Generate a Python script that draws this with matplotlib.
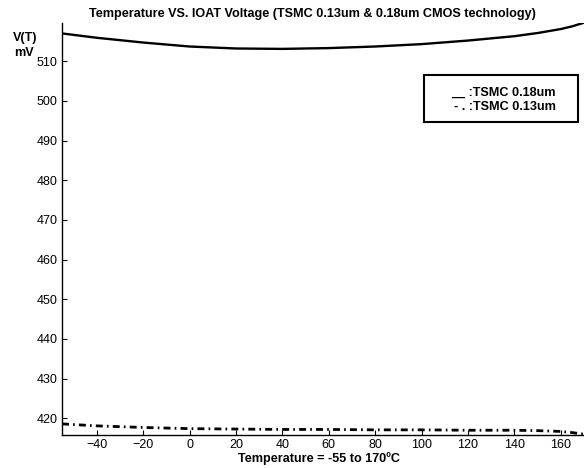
import matplotlib
matplotlib.use("Agg")
import matplotlib.pyplot as plt
from matplotlib.patches import Rectangle

plt.rcParams['font.family'] = ['Liberation Sans', 'DejaVu Sans']

# Data
temp_018 = [-55, -40, -20, 0, 20, 40, 60, 80, 100, 120, 140, 150, 160, 165, 170]
volt_018 = [517.0, 515.9, 514.7, 513.7, 513.2, 513.1, 513.3, 513.7, 514.3, 515.2, 516.3, 517.1, 518.1, 518.8, 519.7]

temp_013 = [-55, -40, -20, 0, 20, 40, 60, 80, 100, 120, 140, 150, 160, 165, 170]
volt_013 = [418.6, 418.1, 417.7, 417.4, 417.3, 417.2, 417.2, 417.1, 417.1, 417.0, 417.0, 416.9, 416.7, 416.4, 416.0]

x_ticks = [-40, -20, 0, 20, 40, 60, 80, 100, 120, 140, 160]
y_ticks = [420, 430, 440, 450, 460, 470, 480, 490, 500, 510]

title = "Temperature VS. IOAT Voltage (TSMC 0.13um & 0.18um CMOS technology)"
xlabel = "Temperature = -55 to 170\u00baC"
ylabel_lines = ["V(T)", "mV"]
legend_lines = ["__ :TSMC 0.18um", "- . :TSMC 0.13um"]

W, H = 584, 468
fig = plt.figure(figsize=(W / 100, H / 100), dpi=100)
ax = fig.add_axes([62 / W, (H - 435) / H, (584 - 62) / W, (435 - 22.7) / H])

ax.plot(temp_018, volt_018, color='black', lw=1.7, solid_capstyle='butt')
ax.plot(temp_013, volt_013, color='black', lw=2.0,
        linestyle=(0, (2.5, 1.5, 0.6, 1.5)), dash_capstyle='butt')

ax.set_xlim(-55, 170)
ax.set_ylim(415.8, 519.7)
ax.set_xticks(x_ticks)
ax.set_yticks(y_ticks)
ax.tick_params(direction='in', length=3.5, width=0.8, labelsize=9, pad=3)
for s in ('top', 'right'):
    ax.spines[s].set_visible(False)
for s in ('left', 'bottom'):
    ax.spines[s].set_linewidth(1.0)

fs = 9.1
fig.text(312 / W, 1 - 14.5 / H, title, ha='center', va='center',
         fontsize=fs, fontweight='bold')
fig.text(319.5 / W, 1 - 459 / H, xlabel, ha='center', va='center',
         fontsize=fs, fontweight='bold')
for (xp, yp), s in zip([(25, 37.7), (24, 53.5)], ylabel_lines):
    fig.text(xp / W, 1 - yp / H, s, ha='center', va='center',
             fontsize=fs, fontweight='bold')

# legend box
fig.patches.append(Rectangle((424 / W, 1 - 122 / H), (578 - 424) / W, (122 - 75) / H,
                             transform=fig.transFigure, fill=False,
                             edgecolor='black', linewidth=1.5))
for yp, s in zip([93, 107], legend_lines):
    fig.text(556 / W, 1 - yp / H, s, ha='right', va='center',
             fontsize=fs, fontweight='bold')

fig.savefig("out.png", dpi=100)
